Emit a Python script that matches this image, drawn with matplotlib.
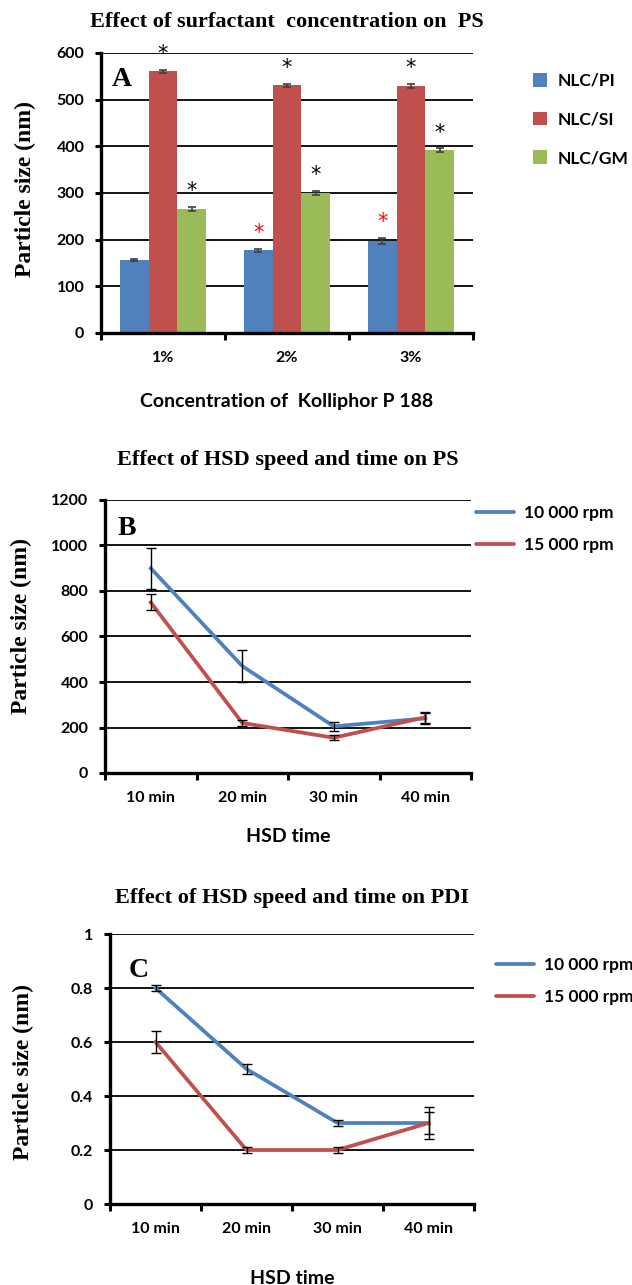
import numpy as np
import matplotlib
matplotlib.use("Agg")
import matplotlib.pyplot as plt
from matplotlib.lines import Line2D

# panel A data
conc_labels = ["1%", "2%", "3%"]
series_a = ["NLC/PI", "NLC/SI", "NLC/GM"]
ps_pi = [156, 177, 197]
ps_si = [561, 531, 530]
ps_gm = [266, 300, 392]
err_pi = [2, 4, 7]
err_si = [3, 3, 4]
err_gm = [5, 5, 4]
star_color_pi = [None, "red", "red"]

# panels B and C data
time_labels = ["10 min", "20 min", "30 min", "40 min"]
speed_labels = ["10 000 rpm", "15 000 rpm"]
ps_10k = [900, 470, 205, 240]
ps_15k = [750, 220, 155, 245]
ps_err_10k = [90, 70, 20, 25]
ps_err_15k = [35, 15, 10, 25]
pdi_10k = [0.8, 0.5, 0.3, 0.3]
pdi_15k = [0.6, 0.2, 0.2, 0.3]
pdi_err_10k = [0.01, 0.02, 0.01, 0.06]
pdi_err_15k = [0.04, 0.01, 0.01, 0.04]

BLUE = "#4f81bd"
RED = "#c0504d"
GREEN = "#9bbb59"
SERIF = "Liberation Serif"
SANS = "Lato"

W, H = 632, 1285
fig = plt.figure(figsize=(W / 100, H / 100), dpi=100)


def px_axes(left, top, right, bottom):
    return fig.add_axes([left / W, 1 - bottom / H, (right - left) / W, (bottom - top) / H])


def style_axes(ax, yticks, ylim, ncat, tick_labels, ytick_labels=None):
    ax.set_ylim(*ylim)
    ax.set_yticks(yticks)
    if ytick_labels is not None:
        ax.set_yticklabels(ytick_labels)
    ax.set_xlim(-0.5, ncat - 0.5)
    ax.set_xticks(range(ncat))
    ax.set_xticks(np.arange(-0.5, ncat, 1.0), minor=True)
    ax.set_xticklabels(tick_labels)
    ax.tick_params(axis="x", which="major", length=0, pad=13)
    ax.tick_params(axis="x", which="minor", length=5, width=2.2, direction="out")
    ax.tick_params(axis="y", length=4, width=2.2, direction="out", pad=8)
    for lab in ax.get_yticklabels() + ax.get_xticklabels():
        lab.set_fontfamily(SANS)
        lab.set_fontweight("bold")
        lab.set_fontsize(11.5)
    ax.yaxis.grid(True, color="black", linewidth=1.3)
    ax.set_axisbelow(True)
    for s in ["top", "right"]:
        ax.spines[s].set_visible(False)
    for s in ["left", "bottom"]:
        ax.spines[s].set_linewidth(2.4)
        ax.spines[s].set_zorder(5)


def labels(ax, title, pad, ylab_xy, xlab, xlab_y, top, bottom):
    ax.set_title(title, fontfamily=SERIF, fontweight="bold", fontsize=16, pad=pad)
    fig.text(ylab_xy[0] / W, 1 - ylab_xy[1] / H, "Particle size (nm)", rotation=90, ha="center", va="center",
             fontfamily=SERIF, fontweight="bold", fontsize=17)
    ax.set_xlabel(xlab, fontfamily=SANS, fontweight="bold", fontsize=14, va="center")
    ax.xaxis.set_label_coords(0.5, (bottom - xlab_y) / (bottom - top))


# ---------------- Panel A ----------------
axA = px_axes(101, 53, 473, 333)
x = np.arange(len(conc_labels))
bw = 0.233
vals = [ps_pi, ps_si, ps_gm]
errs = [err_pi, err_si, err_gm]
cols = [BLUE, RED, GREEN]
handles = []
for i in range(3):
    b = axA.bar(x + (i - 1) * bw, vals[i], bw, color=cols[i], label=series_a[i], zorder=3)
    handles.append(b)
    axA.errorbar(x + (i - 1) * bw, vals[i], yerr=errs[i], fmt="none", ecolor="#404040",
                 elinewidth=1.2, capsize=3, capthick=1.2, zorder=4)
    for j in range(3):
        c = "black"
        if i == 0:
            c = star_color_pi[j]
            if c is None:
                continue
        axA.text(x[j] + (i - 1) * bw, vals[i][j] + errs[i][j] + 12, "*", ha="center", va="bottom",
                 fontsize=15, color=c, fontfamily="DejaVu Sans", zorder=6)
style_axes(axA, range(0, 601, 100), (0, 600), 3, conc_labels)
axA.text(0.03, 0.905, "A", transform=axA.transAxes, fontfamily=SERIF, fontweight="bold", fontsize=20, va="center")
labels(axA, "Effect of surfactant  concentration on  PS", 18.5, (25, 189),
       "Concentration of  Kolliphor P 188", 402, 53, 333)
axA.legend(handles=handles, loc="upper left", bbox_to_anchor=(533 / W, 1 - 73 / H),
           bbox_transform=fig.transFigure, frameon=False, borderpad=0, borderaxespad=0,
           handlelength=0.8, handleheight=0.8, labelspacing=1.3, handletextpad=0.6,
           prop={"family": SANS, "weight": "bold", "size": 12.5})


def line_panel(ax, y1, y2, e1, e2, yticks, ylim, ytl, letter, letter_xy, title, pad, ylab_xy,
               xlab_y, top, bottom, legend_xy):
    xs = np.arange(len(time_labels))
    for y, e, c, lab in [(y1, e1, BLUE, speed_labels[0]), (y2, e2, RED, speed_labels[1])]:
        ax.plot(xs, y, color=c, linewidth=2.7, label=lab, zorder=3)
        ax.errorbar(xs, y, yerr=e, fmt="none", ecolor="black", elinewidth=1, capsize=3.5,
                    capthick=1, zorder=4)
    style_axes(ax, yticks, ylim, len(time_labels), time_labels, ytl)
    ax.text(*letter_xy, letter, transform=ax.transAxes, fontfamily=SERIF, fontweight="bold", fontsize=20, va="center")
    labels(ax, title, pad, ylab_xy, "HSD time", xlab_y, top, bottom)
    hl = [Line2D([], [], color=BLUE, linewidth=2.7, solid_capstyle="round"),
          Line2D([], [], color=RED, linewidth=2.7, solid_capstyle="round")]
    ax.legend(hl, speed_labels, loc="upper left", bbox_to_anchor=legend_xy, bbox_transform=fig.transFigure,
              frameon=False, borderpad=0, borderaxespad=0, handlelength=2.2, labelspacing=0.9,
              handletextpad=0.55, prop={"family": SANS, "weight": "bold", "size": 12.5})


# ---------------- Panel B ----------------
axB = px_axes(105, 500, 471, 773)
line_panel(axB, ps_10k, ps_15k, ps_err_10k, ps_err_15k, range(0, 1201, 200), (0, 1200), None,
           "B", (0.033, 0.894), "Effect of HSD speed and time on PS", 25, (21, 626),
           837, 500, 773, (476 / W, 1 - 505 / H))

# ---------------- Panel C ----------------
axC = px_axes(110, 934, 474, 1204)
line_panel(axC, pdi_10k, pdi_15k, pdi_err_10k, pdi_err_15k, [0, 0.2, 0.4, 0.6, 0.8, 1], (0, 1),
           ["0", "0.2", "0.4", "0.6", "0.8", "1"],
           "C", (0.05, 0.865), "Effect of HSD speed and time on PDI", 22, (23, 1072),
           1279, 934, 1204, (496 / W, 1 - 957 / H))

fig.savefig("out.png", dpi=100)
